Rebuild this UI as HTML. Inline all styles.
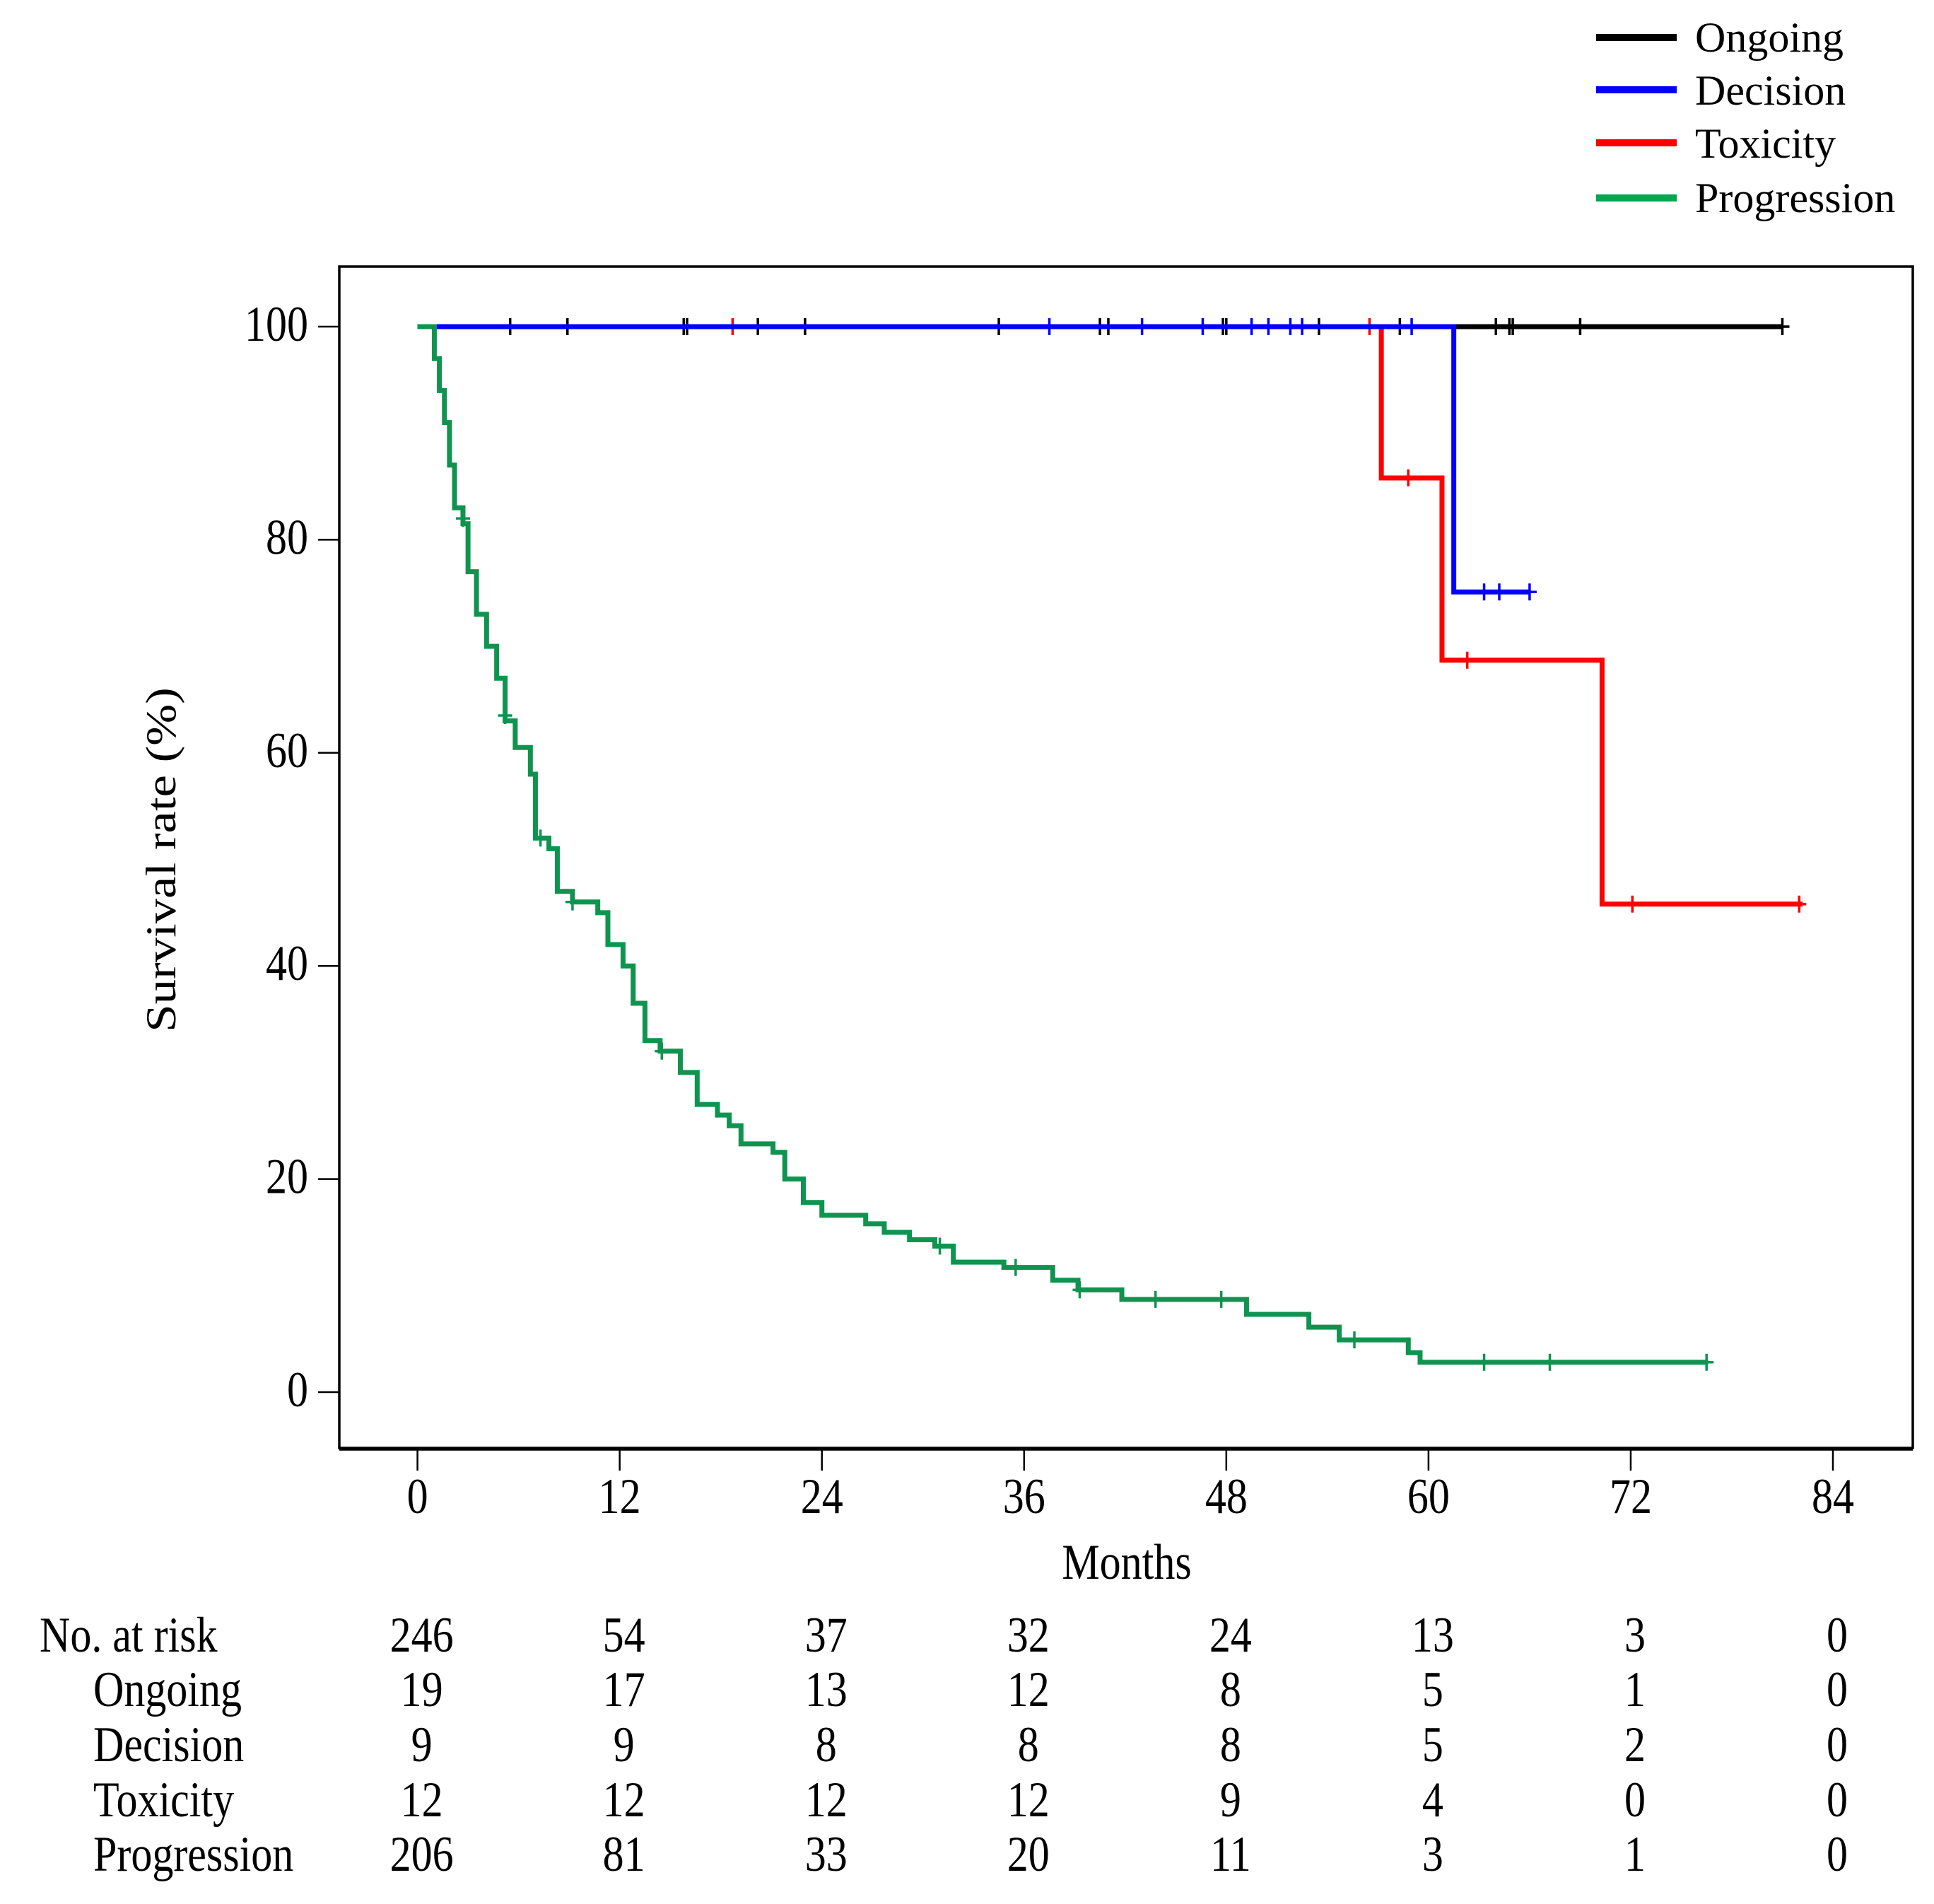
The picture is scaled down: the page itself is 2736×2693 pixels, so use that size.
<!DOCTYPE html>
<html><head><meta charset="utf-8"><style>
html,body{margin:0;padding:0;background:#fff}
svg{display:block}
text{font-family:"Liberation Serif",serif;fill:#000}
</style></head><body>
<svg id="chart" width="2736" height="2693" viewBox="0 0 2736 2693" xmlns="http://www.w3.org/2000/svg">
<g>
<line x1="2258" y1="53" x2="2372" y2="53" stroke="#000" stroke-width="10"/>
<text x="2398" y="73" font-size="60">Ongoing</text>
<line x1="2258" y1="127" x2="2372" y2="127" stroke="#0000ff" stroke-width="10"/>
<text x="2398" y="148" font-size="60">Decision</text>
<line x1="2258" y1="202" x2="2372" y2="202" stroke="#ff0000" stroke-width="10"/>
<text x="2398" y="223" font-size="60">Toxicity</text>
<line x1="2258" y1="280" x2="2372" y2="280" stroke="#00a650" stroke-width="10"/>
<text x="2398" y="300" font-size="60">Progression</text>
</g>
<rect x="480" y="377" width="2226" height="1671" fill="none" stroke="#000" stroke-width="3.5"/>
<g id="axes"></g>
<g id="series"></g>
<g id="risk"></g>
</svg>
<script>
const xTicks = [0, 12, 24, 36, 48, 60, 72, 84];
const yTicks = [0, 20, 40, 60, 80, 100];
// step curves: [month, survival %]
const progression = [[0,100],[0.4,100],[1,97],[1.3,94],[1.6,91],[1.9,87],[2.2,83],[2.7,81.5],[3,77],[3.5,73],[4.1,70],[4.7,67],[5.2,63],[5.8,60.5],[6.7,58],[7,52],[7.8,51],[8.3,47],[9.2,46],[10.7,45],[11.3,42],[12.2,40],[12.8,36.5],[13.5,33],[14.4,32],[15.6,30],[16.6,27],[17.8,26],[18.5,25],[19.2,23.3],[21.1,22.5],[21.8,20],[22.9,17.8],[24,16.6],[26.6,15.8],[27.7,15],[29.2,14.3],[30.7,13.7],[31.8,12.2],[34.8,11.7],[37.7,10.5],[39.2,9.6],[41.8,8.7],[49.2,7.3],[52.9,6.1],[54.7,4.9],[58.8,3.7],[59.5,2.8],[76.6,2.8]];
const progressionCensor = [[2.7,82],[5.2,63.5],[7.3,52],[9.2,46],[14.5,32],[31,13.7],[35.5,11.7],[39.3,9.6],[43.8,8.7],[47.7,8.7],[55.6,4.9],[63.3,2.8],[67.2,2.8],[76.5,2.8]];
const toxicity = [[0,100],[57.2,100],[57.2,85.8],[60.8,85.8],[60.8,68.7],[70.3,68.7],[70.3,45.8],[82.2,45.8]];
const toxicityCensor = [[18.7,100],[56.5,100],[58.8,85.8],[62.3,68.7],[72.1,45.8],[82,45.8]];
const decision = [[0,100],[61.5,100],[61.5,75.1],[66,75.1]];
const decisionCensor = [[37.5,100],[43,100],[46.6,100],[49.5,100],[50.5,100],[51.8,100],[52.5,100],[59,100],[63.3,75.1],[64.2,75.1],[66,75.1]];
const ongoing = [[0,100],[81,100]];
const ongoingCensor = [[5.5,100],[8.9,100],[15.8,100],[16,100],[20.2,100],[23,100],[34.5,100],[40.5,100],[41,100],[47.8,100],[48,100],[53.5,100],[58.3,100],[64,100],[64.8,100],[65,100],[69,100],[81,100]];
const riskLabels = ["No. at risk","Ongoing","Decision","Toxicity","Progression"];
const riskTotal = [246,54,37,32,24,13,3,0];
const riskOngoing = [19,17,13,12,8,5,1,0];
const riskDecision = [9,9,8,8,8,5,2,0];
const riskToxicity = [12,12,12,12,9,4,0,0];
const riskProgression = [206,81,33,20,11,3,1,0];

const NS='http://www.w3.org/2000/svg';
const X = m => 590.6 + m*(2593-590.6)/84;
const Y = v => 1969 - v*(1969-462)/100;
function mk(tag, attrs, parent){const e=document.createElementNS(NS,tag);for(const k in attrs)e.setAttribute(k,attrs[k]);parent.appendChild(e);return e;}
function txt(x,y,s,anchor,parent,fs){const e=mk('text',{transform:`translate(${x},${y}) scale(1,1.18)`,'font-size':fs||60,'text-anchor':anchor},parent);e.textContent=s;return e;}
const axes=document.getElementById('axes');
mk('line',{x1:480,y1:2050,x2:2706,y2:2050,stroke:'#000','stroke-width':3.5},axes);
xTicks.forEach(t=>{
  const l=mk('line',{x1:X(t),y1:2048,x2:X(t),y2:2080,stroke:'#000','stroke-width':2.5},axes);
  
  
  const e=txt(X(t),2140,String(t),'middle',axes);
  
  
});
yTicks.forEach(t=>{
  const l=mk('line',{x1:450,y1:Y(t),x2:480,y2:Y(t),stroke:'#000','stroke-width':2.5},axes);
  
  
  const e=txt(436,Y(t)+20,String(t),'end',axes);
  
  
});
const xt=txt(1594,2233,'Months','middle',axes);


const yt=mk('text',{transform:'translate(248,1216) rotate(-90) scale(1.18,1)','font-size':60,'text-anchor':'middle'},axes);
yt.textContent='Survival rate (%)';



const series=document.getElementById('series');
function stepPath(pts){let d=`M${X(pts[0][0])},${Y(pts[0][1])}`;for(let i=1;i<pts.length;i++){d+=` H${X(pts[i][0])} V${Y(pts[i][1])}`;}return d;}
function drawCurve(pts,cens,color,name){
  const p=mk('path',{d:stepPath(pts),fill:'none',stroke:color,'stroke-width':7},series);
  
  
  cens.forEach(c=>{
    const g=mk('path',{d:`M${X(c[0])-10},${Y(c[1])} H${X(c[0])+10} M${X(c[0])},${Y(c[1])-12} V${Y(c[1])+12}`,stroke:color,'stroke-width':3.5,fill:'none'},series);
    
    
  });
}
drawCurve(ongoing,ongoingCensor,'#000','ongoing');
drawCurve(toxicity,toxicityCensor,'#ff0000','toxicity');
drawCurve(decision,decisionCensor,'#0000ff','decision');
drawCurve(progression,progressionCensor,'#0f9450','progression');

const risk=document.getElementById('risk');
const rows=[riskTotal,riskOngoing,riskDecision,riskToxicity,riskProgression];
const rowY=[2336,2413,2491,2569,2646];
rows.forEach((r,i)=>{
  const lab=txt(i===0?56:132,rowY[i],riskLabels[i],'start',risk);
  
  
  r.forEach((v,j)=>{
    const e=txt(X(xTicks[j])+6,rowY[i],String(v),'middle',risk);
    
    
  });
});
</script>
</body></html>
